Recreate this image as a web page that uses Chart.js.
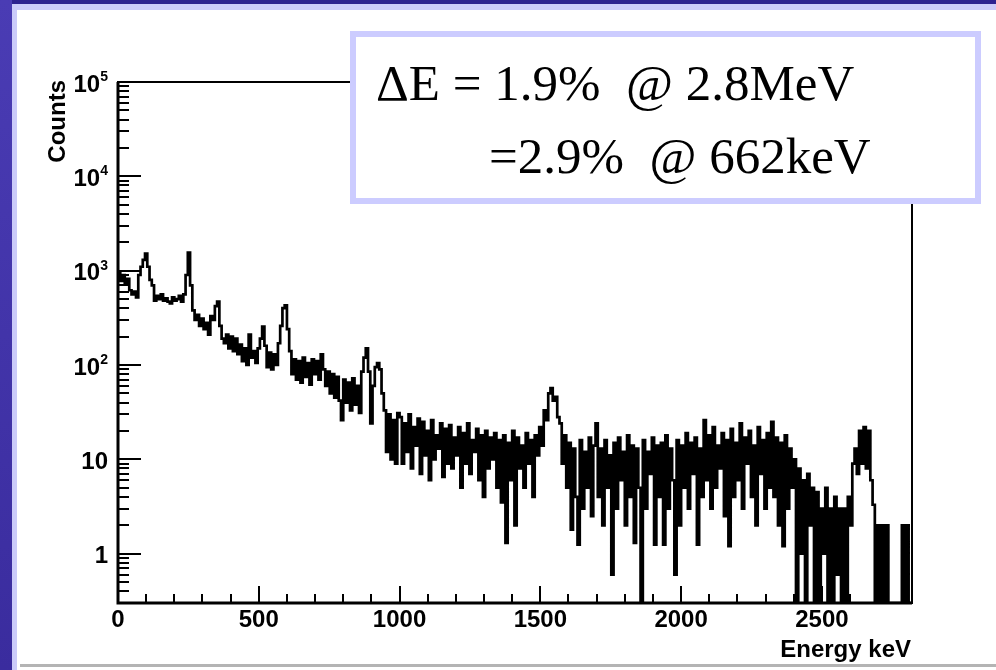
<!DOCTYPE html>
<html>
<head>
<meta charset="utf-8">
<title>Energy spectrum</title>
<script src="https://cdn.jsdelivr.net/npm/chart.js"></script>
<style>
    html, body { margin: 0; padding: 0; }
    body { width: 996px; height: 670px; position: relative; overflow: hidden; background: #fff; }
    .band-top { position: absolute; left: 0; top: 0; width: 996px; height: 4px; background: #2d2290; }
    .band-top-light { position: absolute; left: 0; top: 4px; width: 996px; height: 6px; background: #cbcbfa; }
    .band-left { position: absolute; left: 0; top: 0; width: 12px; height: 670px; background: linear-gradient(#4a3cb4, #3a2c9e); }
    .band-left-light { position: absolute; left: 12px; top: 4px; width: 5px; height: 666px; background: #cbcbfa; }
    .bottom-line { position: absolute; left: 20px; top: 664px; width: 976px; height: 3px; background: #b4b4b4; }
    #chartWrap { position: absolute; left: 0; top: 0; width: 996px; height: 670px; }
    .note {
        position: absolute; left: 350px; top: 31px; width: 631px; height: 173px;
        box-sizing: border-box; border: 6px solid #ccccff; background: #fff;
        font-family: "Liberation Serif", "Times New Roman", serif; font-size: 51px;
        color: #000; white-space: pre;
    }
    .note span { position: absolute; line-height: 56px; }
</style>
</head>
<body>
<div class="band-top"></div>
<div class="band-top-light"></div>
<div class="band-left"></div>
<div class="band-left-light"></div>
<div class="bottom-line"></div>
<div id="chartWrap"><canvas id="spectrumChart" width="996" height="670"></canvas></div>
<div class="note"><span style="left:20px; top:18px;">ΔE = 1.9%  @ 2.8MeV</span><span style="left:133px; top:91px;">=2.9%  @ 662keV</span></div>

<script>
// Spectrum, 8 keV bins, counts per bin (0 = empty bin)
const binWidth = 8;

// 0 - 400 keV
const counts0to400 = [
    950, 780, 900, 720, 820, 620, 560, 600, 520, 900,
    1100, 1300, 1520, 1100, 800, 700, 480, 540, 500, 560,
    480, 510, 470, 450, 520, 480, 500, 540, 470, 560,
    900, 1550, 700, 380, 300, 340, 260, 310, 240, 280,
    210, 330, 300, 420, 470, 260, 190, 170, 210, 150
];

// 400 - 1000 keV
const counts400to1000 = [
    200, 140, 190, 130, 165, 110, 150, 100, 210, 120,
    140, 105, 150, 190, 255, 160, 95, 135, 90, 130,
    100, 170, 260, 400, 430, 240, 140, 80, 115, 70,
    110, 65, 120, 75, 105, 62, 115, 80, 110, 70,
    130, 90, 60, 85, 50, 80, 45, 75, 42, 26,
    70, 40, 65, 33, 72, 38, 60, 31, 85, 120,
    150, 85, 24, 60, 95, 105, 90, 50, 33, 12,
    30, 10, 26, 9, 31
];

// 1000 - 1600 keV
const counts1000to1600 = [
    28, 9, 24, 12, 30, 8, 22, 14, 27, 7,
    25, 11, 20, 6, 26, 10, 18, 13, 24, 6.5,
    21, 9, 23, 8, 17, 11, 22, 5, 19, 9,
    24, 7, 16, 12, 21, 6, 18, 4, 20, 8,
    17, 10, 19, 5, 16, 3.5, 18, 1.3, 15, 6,
    20, 2, 17, 8, 14, 5, 19, 9, 16, 4,
    18, 11, 22, 14, 33, 26, 50, 57, 42, 46,
    28, 24, 9, 18, 5
];

// 1600 - 2400 keV
const counts1600to2400 = [
    15, 1.8, 13, 4, 1.25, 16, 3, 12, 5, 17,
    2.5, 14, 24, 4, 13, 2, 16, 5, 11, 0.6,
    15, 3, 17, 6, 12, 2, 18, 4, 14, 1.3,
    13, 5, 0, 16, 3, 12, 7, 17, 1.25, 14,
    4, 15, 1.25, 18, 3, 13, 6, 0.6, 16, 2,
    14, 5, 19, 3, 15, 7, 17, 1.25, 13, 4,
    26, 6, 18, 3, 22, 5, 14, 8, 19, 2.5,
    16, 1.2, 21, 4, 15, 6, 24, 3, 17, 9,
    20, 4, 14, 2, 22, 7, 16, 3, 19, 5,
    25, 4, 17, 2, 15, 1.2, 18, 3, 13, 5
];

// 2400 - 2824 keV
const counts2400to2824 = [
    10, 0, 8, 1, 6, 0, 7, 2, 5, 0,
    4.5, 0, 3, 1, 5, 0, 3, 0, 4, 0.6,
    3, 0, 3, 0, 4, 2, 9, 13, 7, 20,
    9, 22, 8, 20, 6, 3.3, 0, 2, 0, 2,
    0, 2, 0, 0, 0, 0, 0, 0, 2, 0,
    2, 0, 0
];

// Axes
const xMin = 0;
const xMax = 2820;
const xMajorTicks = [0, 500, 1000, 1500, 2000, 2500];
const yMin = 0.3;
const yMax = 100000;
const yTickValues = [1, 10, 100, 1000, 10000, 100000];
const yTickBases = ['1', '10', '10', '10', '10', '10'];
const yTickExponents = ['', '', '2', '3', '4', '5'];
const xTitle = 'Energy keV';
const yTitle = 'Counts';

const labelFont = '"Liberation Sans", Arial, sans-serif';

document.addEventListener('DOMContentLoaded', function() {
    if (typeof Chart === 'undefined') {
        console.error('Chart.js is not loaded.');
        return;
    }
    initSpectrumChart();
});

// ROOT style frame, inner ticks, y labels with exponents and axis titles
const rootFrame = {
    id: 'rootFrame',
    afterDatasetsDraw(chart) {
        const ctx = chart.ctx;
        const a = chart.chartArea;
        const xs = chart.scales.x;
        const ys = chart.scales.y;

        ctx.save();
        ctx.strokeStyle = '#000';
        ctx.fillStyle = '#000';

        // box round the plot
        ctx.lineWidth = 2;
        ctx.strokeRect(a.left, a.top, a.right - a.left, a.bottom - a.top);
        ctx.lineWidth = 3;
        ctx.beginPath();
        ctx.moveTo(a.left, a.top);
        ctx.lineTo(a.left, a.bottom);
        ctx.lineTo(a.right, a.bottom);
        ctx.stroke();

        // x ticks, every 100 keV, long ones every 500
        ctx.lineWidth = 2;
        ctx.beginPath();
        for (let e = xMin; e <= xMax; e += 100) {
            const px = Math.round(xs.getPixelForValue(e));
            const len = e % 500 === 0 ? 17 : 9;
            ctx.moveTo(px, a.bottom);
            ctx.lineTo(px, a.bottom - len);
        }
        // y ticks, log decades with 2..9 in between
        for (let d = 0.1; d < yMax; d *= 10) {
            for (let m = 1; m <= 9; m++) {
                const v = m * d;
                if (v < yMin * 0.999 || v > yMax * 1.001) continue;
                const py = Math.round(ys.getPixelForValue(v));
                const len = m === 1 ? 23 : 11;
                ctx.moveTo(a.left, py);
                ctx.lineTo(a.left + len, py);
            }
        }
        ctx.stroke();

        // y tick labels
        const rightEdge = a.left - 10;
        yTickValues.forEach(function(v, i) {
            const py = ys.getPixelForValue(v);
            let baseRight = rightEdge;
            if (yTickExponents[i]) {
                ctx.font = 'bold 14px ' + labelFont;
                ctx.textAlign = 'right';
                ctx.textBaseline = 'middle';
                ctx.fillText(yTickExponents[i], rightEdge, py - 5);
                baseRight = rightEdge - ctx.measureText(yTickExponents[i]).width;
            }
            ctx.font = 'bold 24px ' + labelFont;
            ctx.textAlign = 'right';
            ctx.textBaseline = 'middle';
            ctx.fillText(yTickBases[i], baseRight, py + 3);
        });

        // axis titles
        ctx.font = 'bold 24px ' + labelFont;
        ctx.textAlign = 'right';
        ctx.textBaseline = 'alphabetic';
        ctx.fillText(xTitle, a.right - 1, 657);

        ctx.translate(65, a.top - 2);
        ctx.rotate(-Math.PI / 2);
        ctx.fillText(yTitle, 0, 0);
        ctx.restore();
    }
};

function initSpectrumChart() {
    const canvas = document.getElementById('spectrumChart');
    const ctx = canvas.getContext('2d');

    const counts = [].concat(counts0to400, counts400to1000, counts1000to1600,
        counts1600to2400, counts2400to2824);

    // bins start at i * binWidth; empty bins sit on the bottom of the log axis
    const points = counts.map(function(v, i) {
        return { x: i * binWidth, y: v > 0 ? v : yMin };
    });
    const last = counts[counts.length - 1];
    points.push({ x: counts.length * binWidth, y: last > 0 ? last : yMin });

    window.spectrumChart = new Chart(ctx, {
        type: 'line',
        data: {
            datasets: [{
                label: 'Counts',
                data: points,
                stepped: true,
                borderColor: '#000',
                borderWidth: 2.7,
                pointRadius: 0,
                fill: false,
                tension: 0
            }]
        },
        options: {
            responsive: false,
            animation: false,
            layout: {
                padding: { left: 0, top: 82, right: 84, bottom: 27 }
            },
            scales: {
                x: {
                    type: 'linear',
                    position: 'bottom',
                    min: xMin,
                    max: xMax,
                    grid: { display: false, drawTicks: false },
                    border: { display: false },
                    afterBuildTicks: function(scale) {
                        scale.ticks = xMajorTicks.map(function(v) { return { value: v }; });
                    },
                    afterFit: function(scale) { scale.height = 40; },
                    ticks: {
                        color: '#000',
                        font: { family: labelFont, size: 24, weight: 'bold' },
                        padding: 3,
                        maxRotation: 0,
                        autoSkip: false,
                        callback: function(value) { return String(value); }
                    }
                },
                y: {
                    type: 'logarithmic',
                    min: yMin,
                    max: yMax,
                    grid: { display: false, drawTicks: false },
                    border: { display: false },
                    ticks: { display: false },
                    afterFit: function(scale) { scale.width = 118; }
                }
            },
            plugins: {
                legend: { display: false },
                tooltip: { enabled: false }
            }
        },
        plugins: [rootFrame]
    });
}
</script>
</body>
</html>
